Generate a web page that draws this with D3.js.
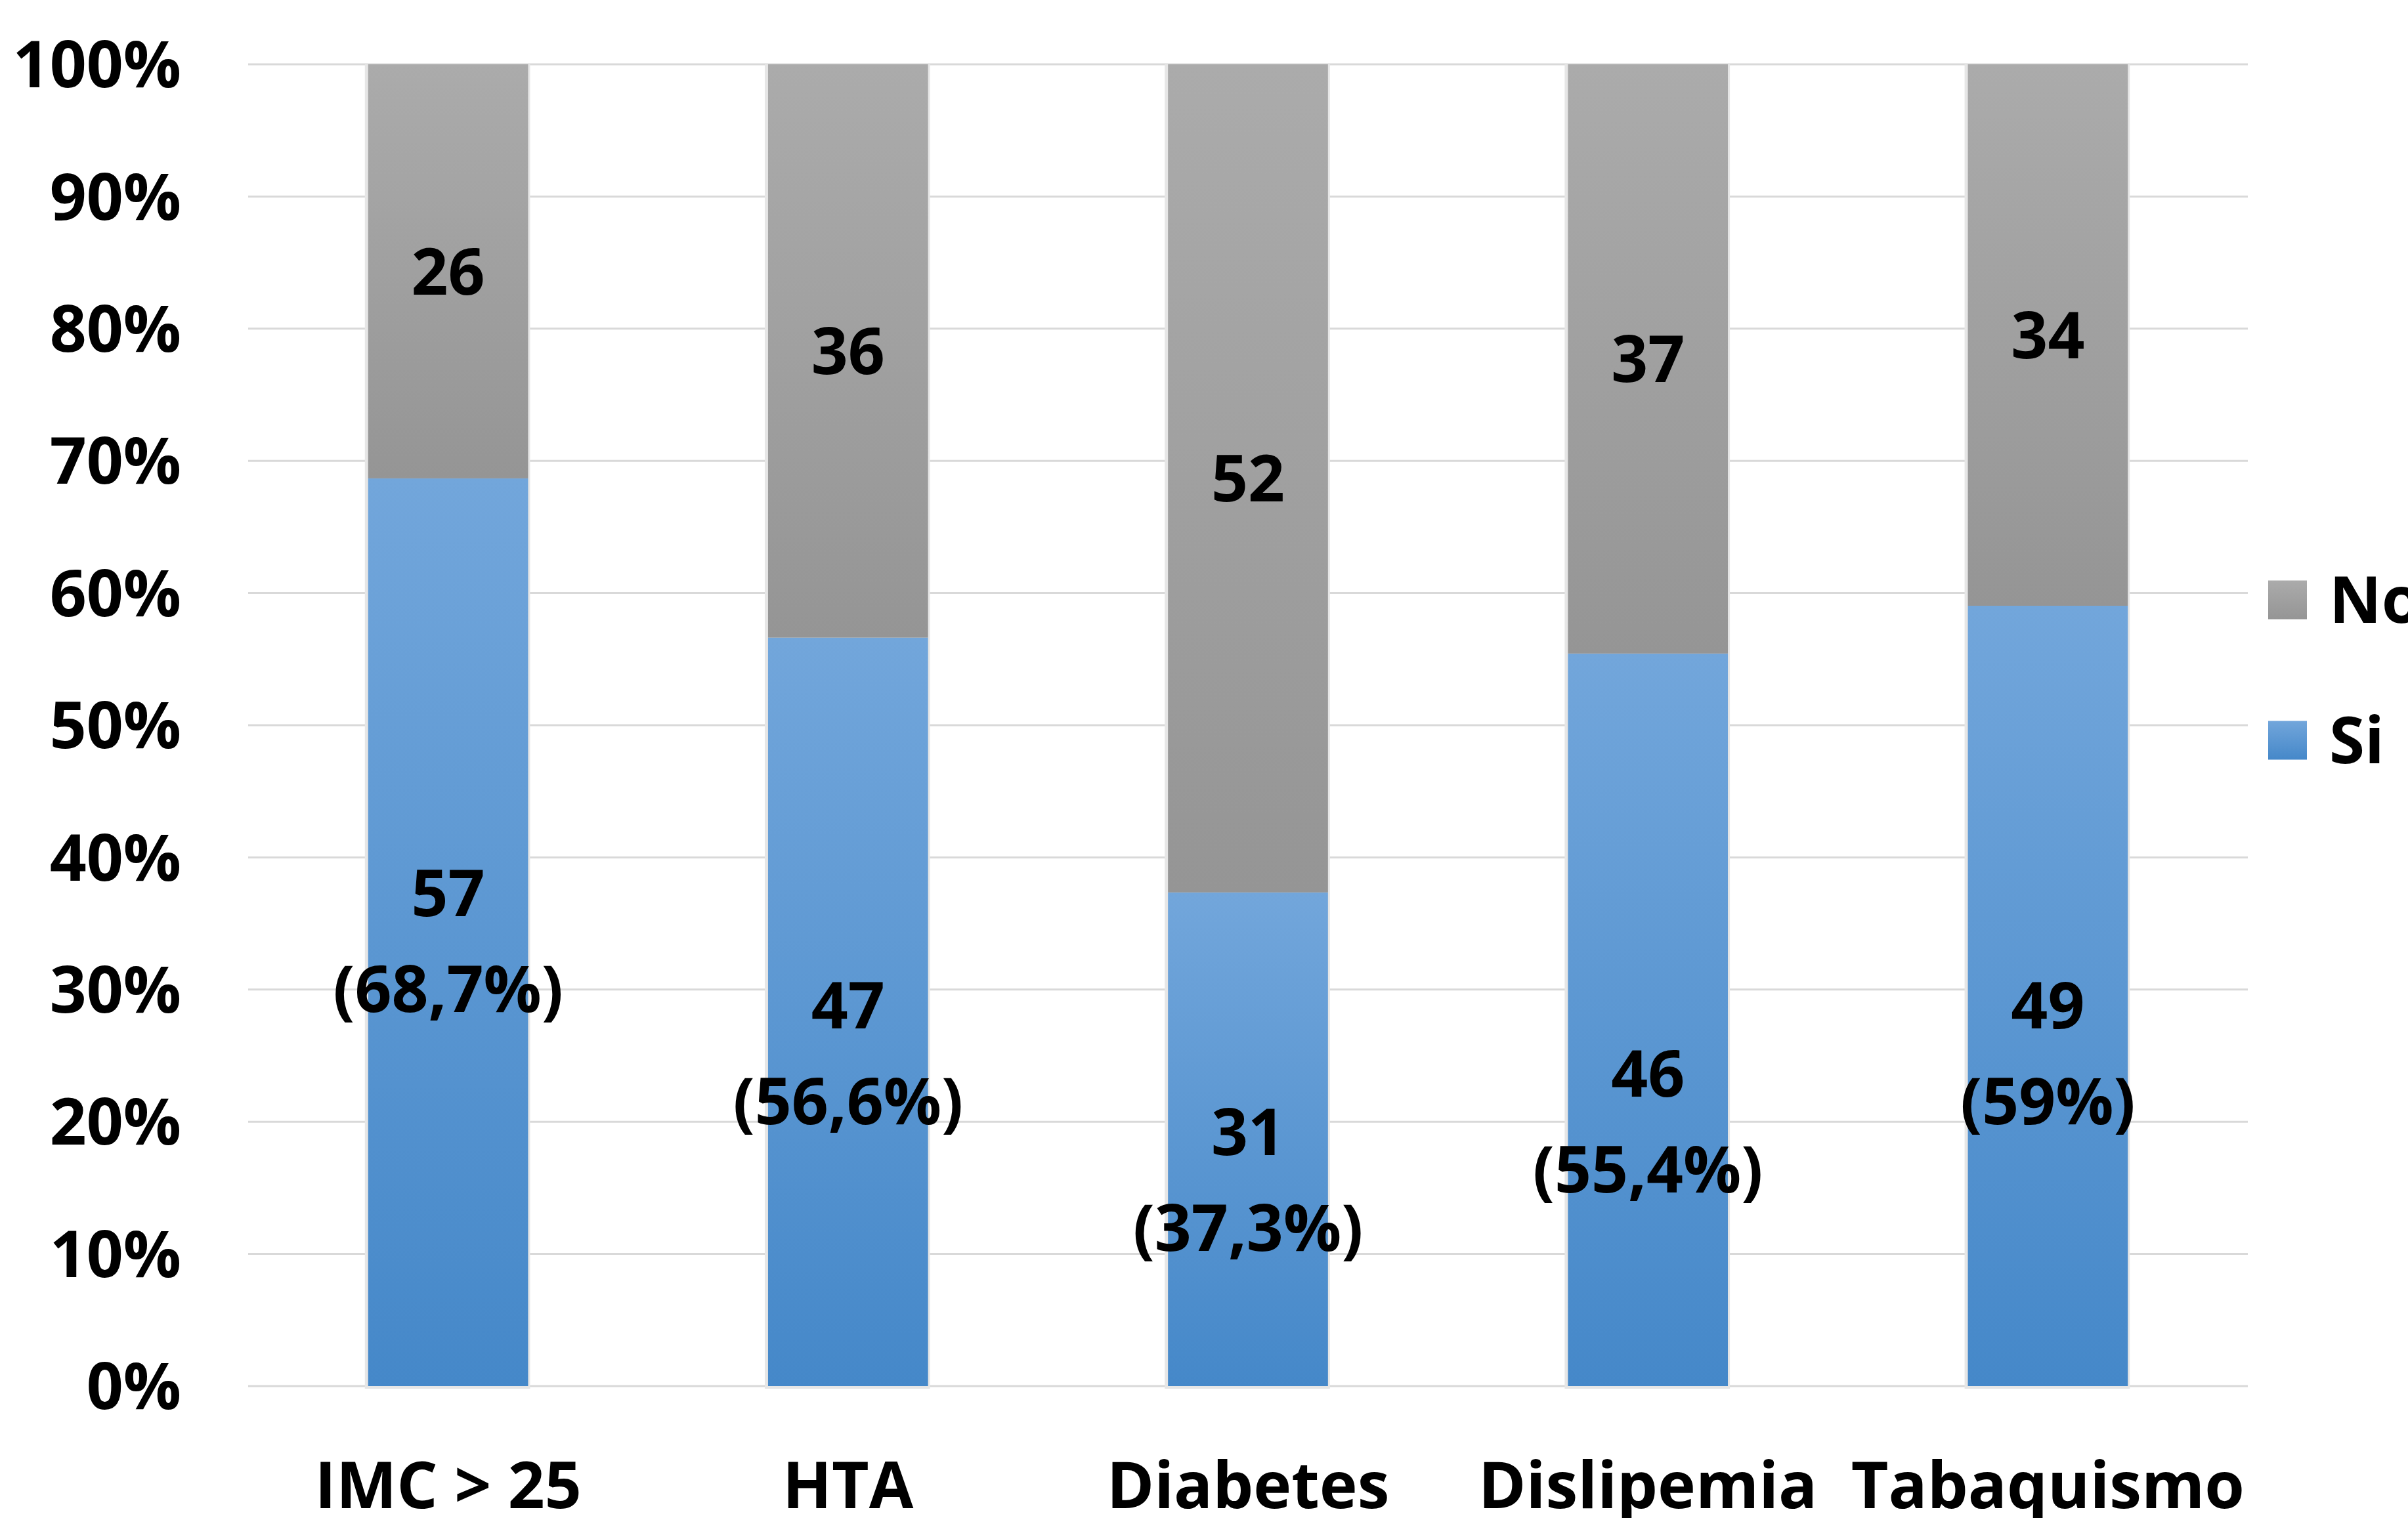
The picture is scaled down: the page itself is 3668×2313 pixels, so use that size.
<!DOCTYPE html>
<html>
<head>
<meta charset="utf-8">
<script src="https://cdn.jsdelivr.net/npm/d3@7"></script>
<style>
  html, body { margin: 0; padding: 0; background: #fff; overflow: hidden; }
  text { font-family: "Open Sans", "Noto Sans", sans-serif; font-weight: 700; fill: #000; }
</style>
</head>
<body>
<svg id="chart"></svg>
<script>
const categories = ["IMC > 25", "HTA", "Diabetes", "Dislipemia", "Tabaquismo"];
const siValues = [57, 47, 31, 46, 49];
const noValues = [26, 36, 52, 37, 34];
const siPctLabels = ["(68,7%)", "(56,6%)", "(37,3%)", "(55,4%)", "(59%)"];
// where the "Si" labels sit (in % of the axis), moved by hand in the original
const siLabelAt = [33.7, 25.2, 15.6, 20.0, 25.2];
const yTicks = [0, 10, 20, 30, 40, 50, 60, 70, 80, 90, 100];
const seriesNames = ["No", "Si"];

const width = 3668;
const height = 2313;
const margin = {top: 98, right: 244, bottom: 201, left: 378};
const fontSize = 98;

const svg = d3.select("#chart").attr("width", width).attr("height", height);

const x = d3
  .scaleBand()
  .domain(categories)
  .range([margin.left, width - margin.right])
  .paddingInner(0.6)
  .paddingOuter(0.3);

const y = d3
  .scaleLinear()
  .domain([0, 100])
  .range([height - margin.bottom, margin.top]);

// gradients
const defs = svg.append("defs");
function addGradient(id, top, bottom) {
  const g = defs
    .append("linearGradient")
    .attr("id", id)
    .attr("x1", 0)
    .attr("y1", 0)
    .attr("x2", 0)
    .attr("y2", 1);
  g.append("stop").attr("offset", "0%").attr("stop-color", top);
  g.append("stop").attr("offset", "100%").attr("stop-color", bottom);
}
addGradient("gradNo", "#ababab", "#959595");
addGradient("gradSi", "#72a6db", "#4588c9");

// grid lines
svg
  .selectAll(".grid")
  .data(yTicks)
  .enter()
  .append("line")
  .attr("x1", margin.left)
  .attr("x2", width - margin.right)
  .attr("y1", (d) => y(d))
  .attr("y2", (d) => y(d))
  .attr("stroke", "#d9d9d9")
  .attr("stroke-width", 3);

// y tick labels
svg
  .selectAll(".ytick")
  .data(yTicks)
  .enter()
  .append("text")
  .attr("x", margin.left - 102)
  .attr("y", (d) => y(d))
  .attr("dy", "0.36em")
  .attr("text-anchor", "end")
  .attr("font-size", fontSize)
  .text((d) => d + "%");

const rows = categories.map((c, i) => {
  const total = siValues[i] + noValues[i];
  return {
    cat: c,
    si: (siValues[i] / total) * 100,
    no: (noValues[i] / total) * 100,
    siN: siValues[i],
    noN: noValues[i],
    pct: siPctLabels[i],
    labelAt: siLabelAt[i],
  };
});

// soft shadow on the left edge of each bar
svg
  .selectAll(".shadow")
  .data(rows)
  .enter()
  .append("rect")
  .attr("x", (d) => x(d.cat) - 5)
  .attr("y", y(100))
  .attr("width", x.bandwidth() + 8)
  .attr("height", y(0) - y(100) + 4)
  .attr("fill", "#e6e6e6");

// Si segment
svg
  .selectAll(".bar-si")
  .data(rows)
  .enter()
  .append("rect")
  .attr("x", (d) => x(d.cat))
  .attr("y", (d) => y(d.si))
  .attr("width", x.bandwidth())
  .attr("height", (d) => y(0) - y(d.si))
  .attr("fill", "url(#gradSi)");

// No segment
svg
  .selectAll(".bar-no")
  .data(rows)
  .enter()
  .append("rect")
  .attr("x", (d) => x(d.cat))
  .attr("y", (d) => y(d.si + d.no))
  .attr("width", x.bandwidth())
  .attr("height", (d) => y(d.si) - y(d.si + d.no))
  .attr("fill", "url(#gradNo)");

// No labels
svg
  .selectAll(".lbl-no")
  .data(rows)
  .enter()
  .append("text")
  .attr("x", (d) => x(d.cat) + x.bandwidth() / 2)
  .attr("y", (d) => y(d.si + d.no / 2))
  .attr("dy", "0.36em")
  .attr("text-anchor", "middle")
  .attr("font-size", fontSize)
  .text((d) => d.noN);

// Si labels, two lines
const lineGap = 146;
const siLbl = svg
  .selectAll(".lbl-si")
  .data(rows)
  .enter()
  .append("g")
  .attr("transform", (d) => `translate(${x(d.cat) + x.bandwidth() / 2},${y(d.labelAt)})`);

siLbl
  .append("text")
  .attr("y", -lineGap / 2)
  .attr("dy", "0.36em")
  .attr("text-anchor", "middle")
  .attr("font-size", fontSize)
  .text((d) => d.siN);

siLbl
  .append("text")
  .attr("y", lineGap / 2)
  .attr("dy", "0.36em")
  .attr("text-anchor", "middle")
  .attr("font-size", fontSize)
  .text((d) => d.pct);

// category labels
svg
  .selectAll(".cat")
  .data(categories)
  .enter()
  .append("text")
  .attr("x", (d) => x(d) + x.bandwidth() / 2)
  .attr("y", 2298)
  .attr("text-anchor", "middle")
  .attr("font-size", fontSize)
  .text((d) => d);

// Legend
const legendX = 3455;
const legendY = [914, 1128];
const box = 59;

seriesNames.forEach((name, i) => {
  svg
    .append("rect")
    .attr("x", legendX)
    .attr("y", legendY[i] - box / 2)
    .attr("width", box)
    .attr("height", box)
    .attr("fill", name === "No" ? "url(#gradNo)" : "url(#gradSi)");

  svg
    .append("text")
    .attr("x", legendX + 93)
    .attr("y", legendY[i])
    .attr("dy", "0.36em")
    .attr("font-size", fontSize)
    .text(name);
});
</script>
</body>
</html>
